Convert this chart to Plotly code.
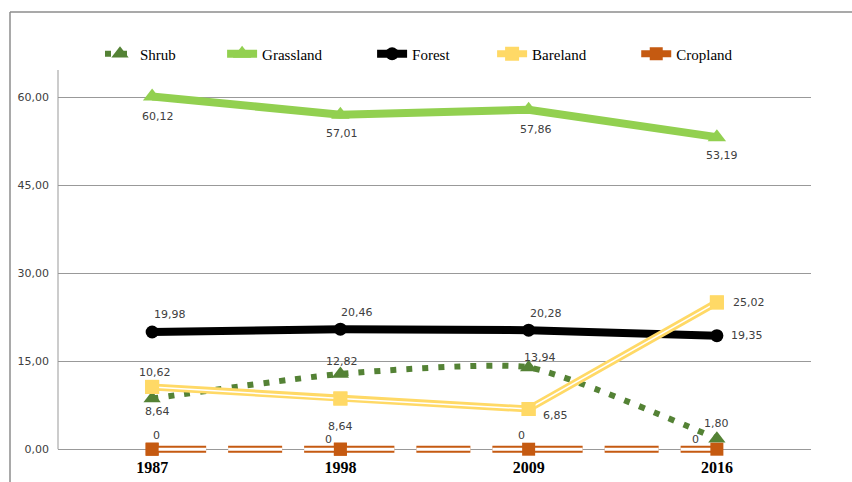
import plotly.graph_objects as go

# ---- data ----
years = ["1987", "1998", "2009", "2016"]
shrub = [8.64, 12.82, 13.94, 1.80]
grassland = [60.12, 57.01, 57.86, 53.19]
forest = [19.98, 20.46, 20.28, 19.35]
bareland = [10.62, 8.64, 6.85, 25.02]
cropland = [0, 0, 0, 0]
y_tick_vals = [0, 15, 30, 45, 60]
y_tick_text = ["0,00", "15,00", "30,00", "45,00", "60,00"]

# ---- styles ----
C_SHRUB = "#548235"
C_GRASS = "#92D050"
C_FOREST = "#000000"
C_BARE = "#FFD966"
C_CROP = "#C55A11"
GRID = "#999999"

W, H = 852, 482
ZERO_PX, SIXTY_PX = 449, 97
PX_PER_UNIT = (ZERO_PX - SIXTY_PX) / 60.0
Y_MIN = -1.5
ML, MR, MT = 58, 41, 70
MB = H - int(round(ZERO_PX - Y_MIN * PX_PER_UNIT))
Y_MAX = Y_MIN + (H - MT - MB) / PX_PER_UNIT


def pad(n):
    return "\u00a0" * n


def fmt2(v):
    return f"{v:.2f}".replace(".", ",")


def fmt0(v):
    return f"{v:g}"


fig = go.Figure()

# Shrub (dotted smoothed)
fig.add_trace(go.Scatter(
    x=years, y=shrub, name="Shrub" + pad(11), mode="lines+markers",
    line=dict(color=C_SHRUB, width=6, dash="6px,10px", shape="spline", smoothing=0.55),
    marker=dict(symbol="triangle-up", size=15, color=C_SHRUB),
))

# Grassland
fig.add_trace(go.Scatter(
    x=years, y=grassland, name="Grassland" + pad(12), mode="lines+markers",
    line=dict(color=C_GRASS, width=8),
    marker=dict(symbol="triangle-up", size=16, color=C_GRASS),
))

# Forest
fig.add_trace(go.Scatter(
    x=years, y=forest, name="Forest" + pad(10), mode="lines+markers",
    line=dict(color=C_FOREST, width=8),
    marker=dict(symbol="circle", size=13, color=C_FOREST),
))

# Bareland (double line)
fig.add_trace(go.Scatter(
    x=years, y=bareland, name="Bareland" + pad(12), mode="lines+markers",
    line=dict(color=C_BARE, width=7),
    marker=dict(symbol="square", size=14, color=C_BARE),
))
fig.add_trace(go.Scatter(
    x=years, y=bareland, mode="lines", showlegend=False, hoverinfo="skip",
    line=dict(color="white", width=1.5),
))
fig.add_trace(go.Scatter(
    x=years, y=bareland, mode="markers", showlegend=False, hoverinfo="skip",
    marker=dict(symbol="square", size=14, color=C_BARE),
))

# Cropland (double dashed line, dash pattern restarting at each point)
for i in range(len(years) - 1):
    xs = years[i:i + 2]
    ys = cropland[i:i + 2]
    fig.add_trace(go.Scatter(
        x=xs, y=ys, name="Cropland", mode="lines+markers" if i == 0 else "lines",
        showlegend=(i == 0), hoverinfo="skip",
        line=dict(color=C_CROP, width=7, dash="54px,22px"),
        marker=dict(symbol="square", size=13, color=C_CROP),
    ))
    fig.add_trace(go.Scatter(
        x=xs, y=ys, mode="lines", showlegend=False, hoverinfo="skip",
        line=dict(color="white", width=3, dash="54px,22px"),
    ))
fig.add_trace(go.Scatter(
    x=years, y=cropland, mode="markers", showlegend=False, hoverinfo="skip",
    marker=dict(symbol="square", size=13, color=C_CROP),
))

# ---- data labels (offsets are styling: dx right, dy down in px) ----
label_specs = [
    (grassland, fmt2, [(6, 20), (2, 19), (7, 20), (5, 18)]),
    (forest, fmt2, [(18, -17), (17, -17), (17, -17), (30, 0)]),
    (shrub, fmt2, [(5, 13), (2, -12), (11, -10), (0, -15)]),
    (bareland, fmt2, [(3, -14), (0, 28), (27, 6), (32, 0)]),
    (cropland, fmt0, [(4, -14), (-12, -10), (-7, -14), (-21, -10)]),
]
annotations = []
for vals, f, offs in label_specs:
    for idx, (yv, (dx, dy)) in enumerate(zip(vals, offs)):
        annotations.append(dict(
            x=idx, y=yv, xref="x", yref="y", text=f(yv), showarrow=False,
            xshift=dx, yshift=-dy,
            font=dict(family="DejaVu Sans", size=11, color="#404040"),
        ))


def px_x(px):
    return (px - ML) / (W - ML - MR)


def px_y(py):
    return (H - MB - py) / (H - MT - MB)


shapes = [
    # outer chart frame (top and left edges visible)
    dict(type="line", xref="paper", yref="paper", x0=px_x(10), y0=px_y(12),
         x1=px_x(W + 5), y1=px_y(12), line=dict(color="#8c8c8c", width=1.5)),
    dict(type="line", xref="paper", yref="paper", x0=px_x(10), y0=px_y(12),
         x1=px_x(10), y1=px_y(H + 5), line=dict(color="#8c8c8c", width=1.5)),
    # value axis line from 0 up to the top of the plot
    dict(type="line", xref="paper", yref="y", x0=0, x1=0, y0=0, y1=Y_MAX,
         line=dict(color=GRID, width=1), layer="below"),
]

fig.update_layout(
    width=W, height=H,
    margin=dict(l=ML, r=MR, t=MT, b=MB, autoexpand=False),
    paper_bgcolor="white", plot_bgcolor="white",
    showlegend=True,
    legend=dict(
        orientation="h", xref="container", yref="container",
        x=100 / W, xanchor="left", y=1 - 54 / H, yanchor="middle",
        font=dict(family="Liberation Serif", size=15, color="black"),
        bgcolor="rgba(0,0,0,0)",
    ),
    xaxis=dict(
        type="category", range=[-0.5, 3.5], showgrid=False, zeroline=False,
        showline=False, ticks="", ticklabelstandoff=-2,
        tickfont=dict(family="Liberation Serif", size=16, color="black", weight="bold"),
    ),
    yaxis=dict(
        range=[Y_MIN, Y_MAX], tickvals=y_tick_vals, ticktext=y_tick_text,
        showgrid=True, gridcolor=GRID, gridwidth=1, zeroline=False,
        showline=False, ticks="", ticklabelstandoff=8,
        tickfont=dict(family="DejaVu Sans", size=11, color="#404040"),
    ),
    annotations=annotations,
    shapes=shapes,
)

fig.write_html("out.html", config={"displayModeBar": False},
               post_script="document.body.style.margin='0px';")
